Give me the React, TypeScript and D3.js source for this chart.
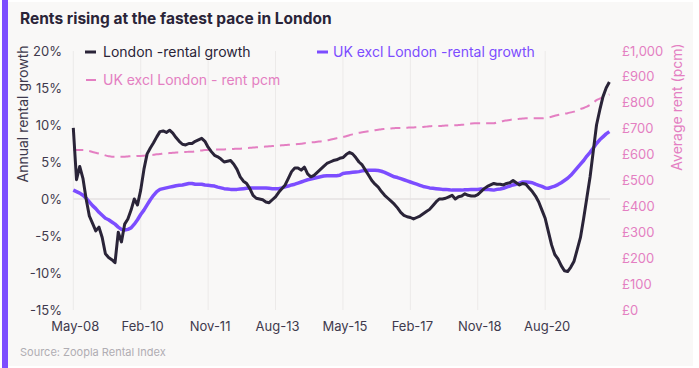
import React from "react";
import * as d3 from "d3";

const tickLabels = ["May-08", "Feb-10", "Nov-11", "Aug-13", "May-15", "Feb-17", "Nov-18", "Aug-20"];
const tickMonths = [0, 21, 42, 63, 84, 105, 126, 147];
const leftTicks = [-15, -10, -5, 0, 5, 10, 15, 20];
const rightTicks = [0, 100, 200, 300, 400, 500, 600, 700, 800, 900, 1000];

// monthly values starting May 2008
const londonGrowth = [
  9.6, 2.6, 4.4, 2.8, 0.0, -2.3, -3.3, -4.3, -3.8, -5.2,
  -7.4, -7.9, -8.2, -8.6, -4.5, -5.8, -3.4, -2.7, -1.5, 0.0,
  -0.8, 1.2, 4.0, 6.1, 6.9, 7.6, 8.4, 9.1, 9.2, 9.0,
  9.3, 8.9, 8.3, 7.8, 7.4, 7.3, 7.5, 7.5, 7.8, 8.0,
  8.2, 7.8, 7.0, 6.4, 5.9, 5.7, 5.4, 5.0, 5.1, 5.2,
  4.7, 4.0, 3.0, 2.4, 2.1, 1.4, 0.5, 0.1, 0.0, -0.1,
  -0.4, -0.5, -0.1, 0.3, 0.9, 1.4, 1.9, 2.8, 3.7, 4.2,
  4.2, 3.9, 4.3, 3.4, 3.0, 3.2, 3.6, 4.0, 4.4, 4.8,
  5.0, 5.2, 5.3, 5.5, 5.6, 6.0, 6.3, 6.1, 5.6, 5.0,
  4.6, 3.9, 3.2, 2.5, 2.0, 1.6, 1.0, 0.5, 0.1, -0.3,
  -0.7, -1.2, -1.8, -2.2, -2.4, -2.5, -2.7, -2.5, -2.3, -2.0,
  -1.7, -1.4, -0.9, -0.4, 0.0, 0.0, 0.1, 0.3, 0.5, 0.0,
  0.3, 0.4, 0.7, 0.5, 0.4, 0.4, 0.6, 1.0, 1.4, 1.7,
  1.9, 2.1, 2.0, 2.0, 1.9, 2.1, 2.2, 2.5, 2.2, 1.9,
  2.1, 2.0, 1.5, 1.0, 0.4, -0.4, -1.5, -2.6, -4.4, -6.2,
  -7.5, -8.1, -9.0, -9.7, -9.8, -9.2, -8.4, -6.8, -5.2, -2.6,
  0.2, 3.0, 6.5, 10.0, 12.0, 13.8, 15.0, 15.8,
];

const ukExLondonGrowth = [
  1.2, 1.0, 0.8, 0.5, 0.1, -0.4, -0.9, -1.3, -1.8, -2.2,
  -2.6, -2.8, -3.1, -3.4, -3.8, -4.1, -4.2, -4.1, -3.9, -3.4,
  -2.8, -2.1, -1.5, -0.8, -0.1, 0.5, 1.0, 1.3, 1.4, 1.5,
  1.6, 1.7, 1.8, 1.85, 1.9, 2.0, 2.1, 2.1, 2.0, 2.0,
  2.0, 1.9, 1.85, 1.8, 1.75, 1.6, 1.5, 1.4, 1.35, 1.3,
  1.3, 1.3, 1.35, 1.4, 1.45, 1.5, 1.5, 1.5, 1.5, 1.5,
  1.5, 1.45, 1.4, 1.4, 1.4, 1.5, 1.65, 1.75, 1.9, 2.0,
  2.15, 2.3, 2.45, 2.6, 2.7, 2.8, 2.9, 3.0, 3.1, 3.15,
  3.15, 3.15, 3.15, 3.2, 3.45, 3.5, 3.55, 3.6, 3.65, 3.7,
  3.8, 3.85, 3.9, 3.9, 3.9, 3.85, 3.75, 3.6, 3.4, 3.2,
  3.0, 2.9, 2.75, 2.6, 2.45, 2.3, 2.15, 2.0, 1.85, 1.7,
  1.6, 1.5, 1.45, 1.4, 1.35, 1.3, 1.3, 1.25, 1.2, 1.2,
  1.2, 1.2, 1.25, 1.25, 1.3, 1.3, 1.3, 1.35, 1.3, 1.3,
  1.25, 1.2, 1.3, 1.35, 1.45, 1.6, 1.75, 1.9, 2.0, 2.15,
  2.3, 2.3, 2.25, 2.2, 2.0, 1.85, 1.7, 1.5, 1.45, 1.6,
  1.75, 1.95, 2.2, 2.5, 2.8, 3.2, 3.7, 4.2, 4.7, 5.2,
  5.8, 6.3, 6.9, 7.5, 8.0, 8.4, 8.8, 9.1,
];

const ukExLondonRent = [
  618, 618, 618, 618, 617, 614, 610, 607, 604, 601,
  597, 594, 592, 592, 592, 592, 592, 593, 594, 594,
  595, 595, 596, 597, 598, 599, 601, 602, 604, 605,
  606, 607, 608, 609, 610, 610, 611, 611, 613, 615,
  616, 618, 618, 619, 620, 620, 620, 620, 621, 621,
  622, 623, 623, 624, 625, 626, 627, 628, 629, 630,
  631, 632, 633, 634, 635, 636, 637, 638, 639, 640,
  641, 642, 644, 645, 647, 648, 650, 651, 653, 655,
  657, 660, 663, 665, 668, 671, 675, 678, 681, 684,
  686, 688, 690, 692, 694, 696, 698, 699, 700, 701,
  702, 703, 703, 704, 704, 705, 705, 706, 706, 707,
  708, 709, 710, 710, 710, 711, 712, 712, 713, 713,
  714, 715, 716, 718, 720, 721, 721, 721, 721, 721,
  721, 721, 724, 727, 730, 732, 734, 736, 737, 738,
  739, 740, 740, 740, 740, 740, 740, 741, 743, 746,
  750, 753, 756, 758, 760, 763, 766, 771, 776, 780,
  785, 792, 800, 810, 816, 822, 828, 832,
];

const W = 699;
const H = 368;
const FONT = "Inter, 'Noto Sans', sans-serif";
const DARK = "#2a2438";
const PURPLE = "#7c4dff";
const PINK = "#e47fc2";
const AXIS_TXT = "#3f3a4d";

export default function App() {
  const plotLeft = 73.3;
  const plotRight = 610;
  const plotTop = 51;
  const plotBottom = 310;

  const x = d3.scaleLinear().domain([0, 167.2]).range([plotLeft, plotRight]);
  const yL = d3.scaleLinear().domain([-15, 20]).range([plotBottom, plotTop]);
  const yR = d3.scaleLinear().domain([0, 1000]).range([plotBottom, plotTop]);

  const lineL = d3
    .line<number>()
    .x((_, i) => x(i))
    .y((d) => yL(d))
    .curve(d3.curveLinear);
  const lineR = d3
    .line<number>()
    .x((_, i) => x(i))
    .y((d) => yR(d))
    .curve(d3.curveMonotoneX);

  const fmtR = (v: number) => "£" + d3.format(",")(v);

  return (
    <svg
      width={W}
      height={H}
      style={{ position: "absolute", left: 0, top: 0, display: "block" }}
      fontFamily={FONT}
    >
      <rect x={0} y={0} width={W} height={H} fill="#ffffff" />
      <rect x={8} y={2} width={685} height={364} fill="#f9f8f7" />
      <rect x={2} y={0} width={6} height={H} fill={PURPLE} />

      <text x={20} y={24} fontSize={15.5} fontWeight={700} fill={DARK}>
        Rents rising at the fastest pace in London
      </text>

      {/* vertical gridlines */}
      {tickMonths.map((m) => (
        <line
          key={"g" + m}
          x1={x(m)}
          x2={x(m)}
          y1={plotTop}
          y2={plotBottom}
          stroke="#eceae9"
          strokeWidth={1}
        />
      ))}
      <line x1={plotLeft} x2={plotRight} y1={yL(0)} y2={yL(0)} stroke="#e4e2e2" strokeWidth={1.5} />

      {/* left axis */}
      {leftTicks.map((t) => (
        <text
          key={"l" + t}
          x={62}
          y={yL(t)}
          dy="0.35em"
          textAnchor="end"
          fontSize={13}
          fill={AXIS_TXT}
        >
          {t + "%"}
        </text>
      ))}
      <text
        transform={`translate(28,114) rotate(-90)`}
        textAnchor="middle"
        fontSize={14}
        fill={AXIS_TXT}
      >
        Annual rental growth
      </text>

      {/* right axis */}
      {rightTicks.map((t) => (
        <text key={"r" + t} x={622} y={yR(t)} dy="0.35em" fontSize={13} fill={PINK}>
          {fmtR(t)}
        </text>
      ))}
      <text
        transform={`translate(682,107) rotate(-90)`}
        textAnchor="middle"
        fontSize={14}
        fill={PINK}
      >
        Average rent (pcm)
      </text>

      {/* x axis labels */}
      {tickMonths.map((m, i) => (
        <text key={"x" + m} x={x(m) + 2} y={331} textAnchor="middle" fontSize={13} fill={AXIS_TXT}>
          {tickLabels[i]}
        </text>
      ))}

      {/* series */}
      <path
        d={lineR(ukExLondonRent) || ""}
        fill="none"
        stroke={PINK}
        strokeWidth={2}
        strokeDasharray="10,6"
      />
      <path d={lineL(ukExLondonGrowth) || ""} fill="none" stroke={PURPLE} strokeWidth={3.5} strokeLinejoin="round" />
      <path d={lineL(londonGrowth) || ""} fill="none" stroke={DARK} strokeWidth={3} strokeLinejoin="round" />

      {/* legend */}
      <line x1={85} x2={96} y1={52} y2={52} stroke={DARK} strokeWidth={3} />
      <text x={103} y={57} fontSize={14} fill={DARK}>
        London -rental growth
      </text>
      <line x1={317} x2={328} y1={52} y2={52} stroke={PURPLE} strokeWidth={3} />
      <text x={333} y={57} fontSize={14} fill={PURPLE}>
        UK excl London -rental growth
      </text>
      <line x1={86} x2={96} y1={80} y2={80} stroke={PINK} strokeWidth={2} />
      <text x={103} y={85} fontSize={14} fill={PINK}>
        UK excl London - rent pcm
      </text>

      <text x={20} y={356} fontSize={11} fill="#b0adb3">
        Source: Zoopla Rental Index
      </text>
    </svg>
  );
}
